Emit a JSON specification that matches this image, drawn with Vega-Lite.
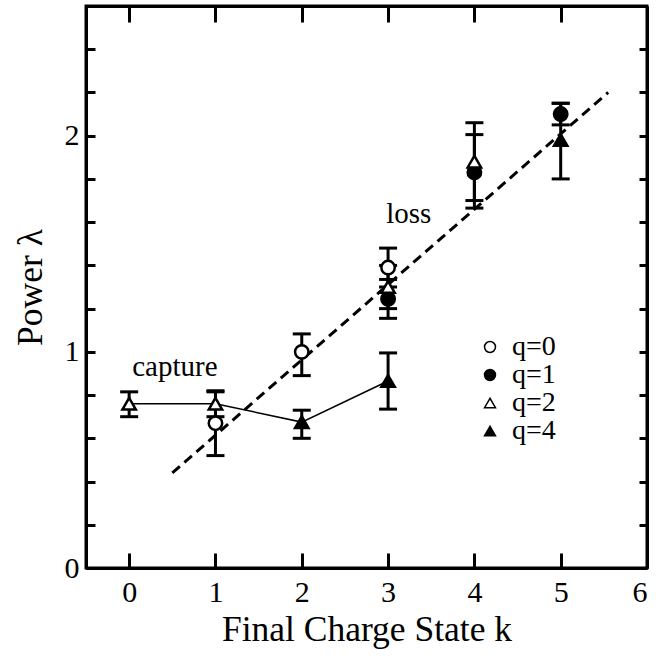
{
  "$schema": "https://vega.github.io/schema/vega-lite/v6.json",
  "width": 561,
  "height": 562,
  "autosize": {"type": "none"},
  "padding": {"left": 86, "top": 6, "right": 25, "bottom": 90},
  "background": "white",
  "config": {
    "font": "Liberation Serif",
    "view": {"stroke": "black", "strokeWidth": 3},
    "axis": {
      "domainColor": "black", "domainWidth": 3,
      "tickColor": "black", "tickWidth": 3,
      "grid": false,
      "labelFont": "Liberation Serif", "titleFont": "Liberation Serif",
      "labelColor": "black", "titleColor": "black",
      "labelFontSize": 30, "titleFontSize": 35.5, "titleFontWeight": "normal",
      "labelOverlap": false
    },
    "legend": {
      "labelFont": "Liberation Serif", "labelColor": "black"
    }
  },
  "datasets": {
    "obs": [
      {"k": 0, "q": "q=2", "lam": 0.76, "lo": 0.70, "hi": 0.815},
      {"k": 1, "q": "q=2", "lam": 0.76, "lo": 0.70, "hi": 0.815},
      {"k": 1, "q": "q=0", "lam": 0.67, "lo": 0.52, "hi": 0.82},
      {"k": 2, "q": "q=0", "lam": 1.0, "lo": 0.89, "hi": 1.083},
      {"k": 2, "q": "q=4", "lam": 0.675, "lo": 0.60, "hi": 0.73},
      {"k": 3, "q": "q=0", "lam": 1.39, "lo": 1.30, "hi": 1.48},
      {"k": 3, "q": "q=1", "lam": 1.245, "lo": 1.155, "hi": 1.335},
      {"k": 3, "q": "q=2", "lam": 1.30, "lo": 1.20, "hi": 1.40},
      {"k": 3, "q": "q=4", "lam": 0.865, "lo": 0.735, "hi": 0.995},
      {"k": 4, "q": "q=1", "lam": 1.83, "lo": 1.665, "hi": 2.005},
      {"k": 4, "q": "q=2", "lam": 1.88, "lo": 1.70, "hi": 2.06},
      {"k": 5, "q": "q=1", "lam": 2.10, "lo": 2.05, "hi": 2.15},
      {"k": 5, "q": "q=4", "lam": 1.98, "lo": 1.80, "hi": 2.15}
    ],
    "fit": [{"k": 0.5, "lam": 0.44}, {"k": 5.55, "lam": 2.2}],
    "notes": [
      {"k": 0.53, "lam": 0.93, "text": "capture"},
      {"k": 3.24, "lam": 1.64, "text": "loss"}
    ]
  },
  "layer": [
    {
      "layer": [
        {
          "data": {"name": "fit"},
          "mark": {"type": "line", "color": "black", "strokeWidth": 3, "strokeDash": [10, 6]},
          "encoding": {
            "x": {
              "field": "k", "type": "quantitative",
              "scale": {"domain": [-0.5, 6], "nice": false, "zero": false},
              "axis": {
                "values": [0, 1, 2, 3, 4, 5, 6], "format": "d",
                "tickSize": -15, "labelPadding": 24,
                "title": "Final Charge State k", "titlePadding": 5
              }
            },
            "y": {
              "field": "lam", "type": "quantitative",
              "scale": {"domain": [0, 2.6], "nice": false, "zero": false},
              "axis": {
                "values": [0, 0.2, 0.4, 0.6, 0.8, 1, 1.2, 1.4, 1.6, 1.8, 2, 2.2, 2.4],
                "labelExpr": "datum.value == 0 ? '0' : datum.value == 1 ? '1' : datum.value == 2 ? '2' : ''",
                "tickSize": -9, "labelPadding": 16,
                "title": "Power λ", "titlePadding": 16
              }
            }
          }
        },
        {
          "data": {"name": "obs"},
          "transform": [
            {"filter": "(datum.q == 'q=2' && datum.k <= 1) || (datum.q == 'q=4' && datum.k >= 2 && datum.k <= 3)"}
          ],
          "mark": {"type": "line", "color": "black", "strokeWidth": 1.5},
          "encoding": {
            "x": {"field": "k", "type": "quantitative"},
            "y": {"field": "lam", "type": "quantitative"},
            "order": {"field": "k"}
          }
        },
        {
          "data": {"name": "obs"},
          "mark": {"type": "rule", "color": "black", "strokeWidth": 3},
          "encoding": {
            "x": {"field": "k", "type": "quantitative"},
            "y": {"field": "lo", "type": "quantitative"},
            "y2": {"field": "hi"}
          }
        },
        {
          "data": {"name": "obs"},
          "mark": {"type": "tick", "orient": "horizontal", "color": "black", "size": 18, "thickness": 3, "opacity": 1},
          "encoding": {
            "x": {"field": "k", "type": "quantitative"},
            "y": {"field": "lo", "type": "quantitative"}
          }
        },
        {
          "data": {"name": "obs"},
          "mark": {"type": "tick", "orient": "horizontal", "color": "black", "size": 18, "thickness": 3, "opacity": 1},
          "encoding": {
            "x": {"field": "k", "type": "quantitative"},
            "y": {"field": "hi", "type": "quantitative"}
          }
        },
        {
          "data": {"name": "obs"},
          "mark": {"type": "point", "filled": true, "stroke": "black", "strokeWidth": 2.5, "size": 180, "opacity": 1},
          "encoding": {
            "x": {"field": "k", "type": "quantitative"},
            "y": {"field": "lam", "type": "quantitative"},
            "shape": {
              "field": "q", "type": "nominal",
              "scale": {"domain": ["q=0", "q=1", "q=2", "q=4"], "range": ["circle", "circle", "triangle-up", "triangle-up"]},
              "legend": {
                "title": null, "orient": "none", "legendX": 390, "legendY": 327,
                "labelFontSize": 28, "symbolSize": 120, "rowPadding": 0, "labelOffset": 8, "padding": 0,
                "encode": {"symbols": {"update": {"stroke": {"value": "black"}, "strokeWidth": {"value": 2.5}}}}
              }
            },
            "fill": {
              "field": "q", "type": "nominal",
              "scale": {"domain": ["q=0", "q=1", "q=2", "q=4"], "range": ["white", "black", "white", "black"]},
              "legend": {
                "title": null, "orient": "none", "legendX": 390, "legendY": 327,
                "labelFontSize": 28, "symbolSize": 120, "rowPadding": 0, "labelOffset": 8, "padding": 0,
                "encode": {"symbols": {"update": {"stroke": {"value": "black"}, "strokeWidth": {"value": 2.5}}}}
              }
            }
          }
        },
        {
          "data": {"name": "notes"},
          "mark": {"type": "text", "font": "Liberation Serif", "fontSize": 29, "color": "black", "align": "center", "baseline": "middle"},
          "encoding": {
            "x": {"field": "k", "type": "quantitative"},
            "y": {"field": "lam", "type": "quantitative"},
            "text": {"field": "text"}
          }
        }
      ]
    },
    {
      "data": {"name": "fit"},
      "mark": {"type": "point", "opacity": 0},
      "encoding": {
        "x": {
          "field": "k", "type": "quantitative",
          "scale": {"domain": [-0.5, 6], "nice": false, "zero": false},
          "axis": {"orient": "top", "values": [0, 1, 2, 3, 4, 5], "tickSize": -16, "labels": false, "title": null}
        },
        "y": {
          "field": "lam", "type": "quantitative",
          "scale": {"domain": [0, 2.6], "nice": false, "zero": false},
          "axis": {"orient": "right", "values": [0.2, 0.4, 0.6, 0.8, 1, 1.2, 1.4, 1.6, 1.8, 2, 2.2, 2.4], "tickSize": -8, "labels": false, "title": null}
        }
      }
    }
  ],
  "resolve": {"axis": {"x": "independent", "y": "independent"}}
}
